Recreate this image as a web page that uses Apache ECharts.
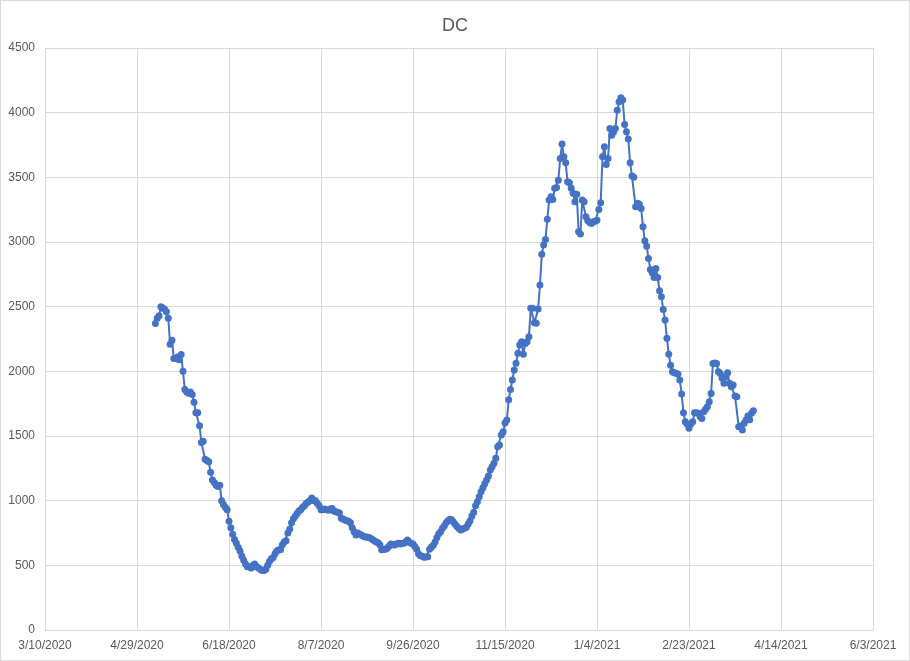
<!DOCTYPE html>
<html>
<head>
<meta charset="utf-8">
<script src="https://cdn.jsdelivr.net/npm/echarts@6/dist/echarts.min.js"></script>
<style>
  html, body { margin: 0; padding: 0; background: #fff; }
  #chart { width: 908px; height: 659px; border: 1px solid #d9d9d9; }
</style>
</head>
<body>
<div id="chart"></div>
<script>
// days counted from 3/10/2020 (axis origin); first reading is 5/9/2020
const axisStart = [2020, 2, 10]
const firstDay = 60
const xTicks = [0, 450, 50]
const yTicks = [0, 4500, 500]

// one reading per day, 5/9/2020 .. 3/30/2021
const values = [
  2370, 2410, 2430, 2500, 2490, 2480, 2460, 2410, 2210, 2240,
  2100, 2100, 2110, 2090, 2130, 2000, 1860, 1840, 1830, 1840,
  1820, 1760, 1680, 1680, 1580, 1450, 1460, 1320, 1310, 1300,
  1220, 1160, 1140, 1120, 1110, 1120, 1000, 970, 950, 930,
  840, 790, 740, 700, 670, 640, 610, 570, 540, 510,
  490, 490, 480, 500, 510, 490, 480, 470, 460, 460,
  470, 500, 530, 550, 560, 590, 610, 620, 620, 660,
  680, 690, 750, 780, 830, 860, 880, 900, 920, 930,
  950, 960, 980, 990, 1000, 1020, 1000, 1000, 980, 960,
  930, 930, 935, 930, 925, 935, 940, 920, 915, 910,
  905, 865, 858, 850, 845, 840, 830, 790, 760, 735,
  750, 740, 735, 725, 720, 720, 715, 710, 700, 690,
  680, 675, 660, 620, 625, 625, 632, 650, 665, 660,
  657, 665, 670, 665, 668, 670, 680, 695, 678, 670,
  665, 645, 624, 590, 575, 570, 562, 565, 567, 624,
  640, 655, 680, 715, 745, 760, 786, 805, 830, 845,
  856, 852, 835, 815, 799, 785, 773, 780, 786, 794,
  820, 845, 881, 910, 960, 992, 1031, 1069, 1100, 1130,
  1160, 1190, 1237, 1262, 1290, 1327, 1417, 1430, 1507, 1533,
  1600, 1623, 1780, 1860, 1933, 2010, 2062, 2139, 2203, 2229,
  2133, 2216, 2229, 2268, 2487, 2487, 2376, 2371, 2481, 2667,
  2906, 2976, 3020, 3175, 3324, 3350, 3329, 3415, 3422, 3478,
  3646, 3757, 3659, 3612, 3466, 3458, 3415, 3376, 3311, 3370,
  3079, 3061, 3324, 3311, 3195, 3165, 3150, 3144, 3157, 3160,
  3169, 3252, 3304, 3659, 3736, 3600, 3646, 3878, 3826, 3850,
  3878, 4019, 4084, 4115, 4097, 3908, 3853, 3796, 3613, 3510,
  3500, 3272, 3300, 3291, 3259, 3117, 3010, 2968, 2873, 2788,
  2762, 2726, 2796, 2726, 2623, 2577, 2479, 2396, 2255, 2133,
  2048, 1997, 1990, 1985, 1979, 1933, 1824, 1680, 1610, 1592,
  1559, 1592, 1610, 1680, 1680, 1675, 1650, 1636, 1688, 1706,
  1726, 1765, 1829, 2061, 2065, 2061, 1997, 1984, 1946, 1907,
  1958, 1989, 1907, 1881, 1894, 1810, 1803, 1572, 1577, 1546,
  1598, 1623, 1654, 1625, 1675, 1695
]

const points = values.map((v, i) => [firstDay + i, v])

function dayLabel(n) {
  const d = new Date(axisStart[0], axisStart[1], axisStart[2] + n)
  return (d.getMonth() + 1) + '/' + d.getDate() + '/' + d.getFullYear()
}

const labelStyle = { color: '#595959', fontSize: 12, fontFamily: 'Liberation Sans, Arial, sans-serif' }
const gridLine = { show: true, lineStyle: { color: '#d9d9d9', width: 1 } }

const chart = echarts.init(document.getElementById('chart'))
chart.setOption({
  animation: false,
  title: {
    text: 'DC',
    left: 'center',
    top: 11,
    textStyle: { color: '#595959', fontSize: 18, fontWeight: 'normal', fontFamily: 'Liberation Sans, Arial, sans-serif' }
  },
  grid: { left: 44, right: 36, top: 47, bottom: 30 },
  xAxis: {
    type: 'value',
    min: xTicks[0],
    max: xTicks[1],
    interval: xTicks[2],
    axisLine: { show: true, lineStyle: { color: '#d9d9d9' } },
    axisTick: { show: false },
    splitLine: gridLine,
    axisLabel: Object.assign({ formatter: dayLabel, margin: 10 }, labelStyle)
  },
  yAxis: {
    type: 'value',
    min: yTicks[0],
    max: yTicks[1],
    interval: yTicks[2],
    axisLine: { show: false },
    axisTick: { show: false },
    splitLine: gridLine,
    axisLabel: Object.assign({ formatter: v => String(v), margin: 10 }, labelStyle)
  },
  series: [
    {
      type: 'line',
      data: points,
      symbol: 'circle',
      symbolSize: 7,
      lineStyle: { color: '#4472c4', width: 2 },
      itemStyle: { color: '#4472c4' }
    }
  ]
})
</script>
</body>
</html>
